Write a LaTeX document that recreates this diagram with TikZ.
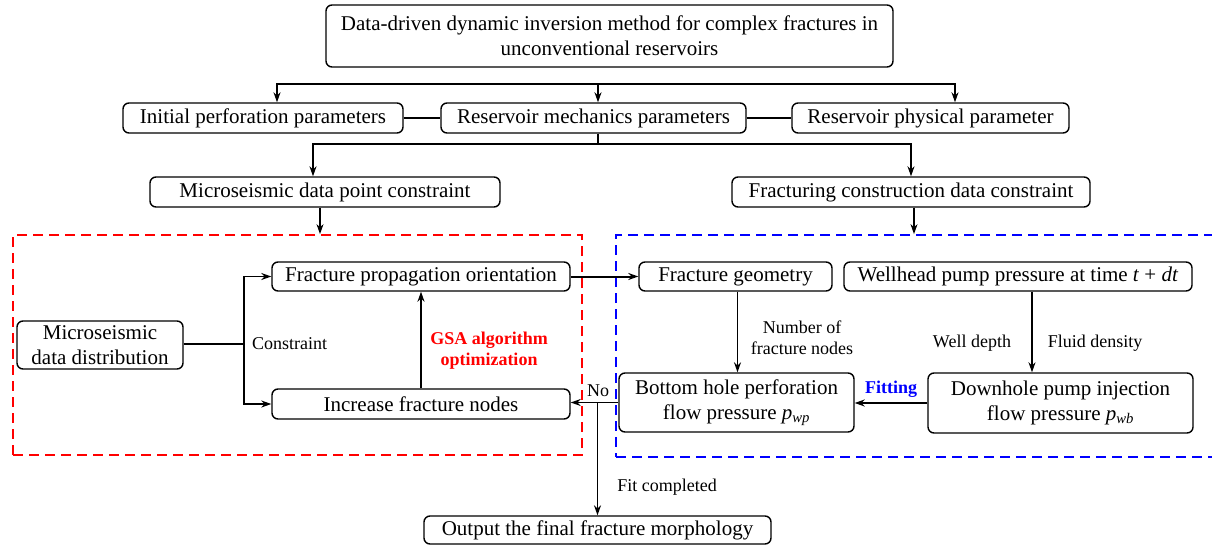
\documentclass[tikz,border=0pt]{standalone}
\usepackage{fontspec}
\setmainfont{Liberation Serif}
\usetikzlibrary{arrows.meta}
\begin{document}
\begin{tikzpicture}[x=1pt, y=-1pt, font=\fontsize{21}{25}\selectfont,
    box/.style={draw, rounded corners=6pt, line width=1.4pt, inner sep=0pt, align=center},
    lbl/.style={font=\fontsize{18}{21}\selectfont, align=center, inner sep=1pt},
    blbl/.style={lbl, font=\fontsize{18}{21}\selectfont\bfseries},
    arr/.style={-{Stealth[length=10pt,width=7pt]}, line width=1.2pt},
    zone/.style={draw, dash pattern=on 10pt off 6pt, line width=1.8pt, inner sep=0pt}]
  \clip (0,0) rectangle (1212,548);
  % dashed regions
  \node[zone, red, minimum width=569pt, minimum height=220pt] (redzone) at (297.5,345) {};
  \node[zone, blue, minimum width=620pt, minimum height=222pt] (bluezone) at (926,346) {};
  % top part
  \node[box, minimum width=567pt, minimum height=62pt] (top) at (609.5,36) {Data-driven dynamic inversion method for complex fractures in\\unconventional reservoirs};
  \node[box, minimum width=280pt, minimum height=30pt] (init) at (263,118) {Initial perforation parameters};
  \node[box, minimum width=305pt, minimum height=30pt] (mech) at (593.5,118) {Reservoir mechanics parameters};
  \node[box, minimum width=277pt, minimum height=30pt] (phys) at (930.5,118) {Reservoir physical parameter};
  \node[box, minimum width=350pt, minimum height=30pt] (mdpc) at (325,192) {Microseismic data point constraint};
  \node[box, minimum width=358pt, minimum height=30pt] (fcdc) at (911,192) {Fracturing construction data constraint};
  \coordinate (busA) at (598,84);
  \coordinate (busB) at (598,144);
  \draw[arr] (busA) -| ([xshift=14pt]init.north);
  \draw[arr] (busA) -| ([xshift=24.5pt]phys.north);
  \draw[arr] (busA) -- (busA |- mech.north);
  \draw[line width=1.2pt] (init) -- (mech);
  \draw[line width=1.2pt] (mech) -- (phys);
  \draw[line width=1.2pt] (mech.south -| busB) -- (busB);
  \draw[arr] (busB) -| ([xshift=-12pt]mdpc.north);
  \draw[arr] (busB) -| (fcdc.north);
  \draw[arr] ([xshift=-5pt]mdpc.south) -- ([xshift=-5pt]mdpc.south |- redzone.north);
  \draw[arr] ([xshift=3pt]fcdc.south) -- ([xshift=3pt]fcdc.south |- bluezone.north);
  % red part
  \node[box, minimum width=166pt, minimum height=48pt] (mdd) at (100,345) {Microseismic\\data distribution};
  \node[box, minimum width=298pt, minimum height=29pt] (fpo) at (421,276.5) {Fracture propagation orientation};
  \node[box, minimum width=298pt, minimum height=30pt] (inc) at (421,404) {Increase fracture nodes};
  \coordinate (split) at (244,344);
  \draw[line width=1.2pt] (split -| mdd.east) -- (split);
  \draw[arr] (split) |- (fpo.west);
  \draw[arr] (split) |- (inc.west);
  \node[lbl, anchor=west] (constr) at (251,344) {Constraint};
  \draw[arr] (inc) -- (fpo);
  \node[blbl, red] (gsa) at (489,351) {GSA algorithm\\optimization};
  % blue part
  \node[box, minimum width=193pt, minimum height=29pt] (geo) at (735.5,276.5) {Fracture geometry};
  \node[box, minimum width=348pt, minimum height=29pt] (well) at (1018,276.5) {Wellhead pump pressure at time \textit{t} + \textit{dt}};
  \node[box, minimum width=235pt, minimum height=59pt] (bhp) at (736.5,402.5) {Bottom hole perforation\\flow pressure \textit{p}\textsubscript{\textit{wp}}};
  \node[box, minimum width=265pt, minimum height=60pt] (dhp) at (1060.5,403) {Downhole pump injection\\flow pressure \textit{p}\textsubscript{\textit{wb}}};
  \draw[arr, line width=2pt] (fpo.east) -- (geo.west);
  \draw[arr] ([xshift=2pt]geo.south) -- ([xshift=2pt]geo.south |- bhp.north);
  \node[lbl] (nfn) at (802,338) {Number of\\fracture nodes};
  \draw[arr] ([xshift=14pt]well.south) -- ([xshift=14pt]well.south |- dhp.north);
  \node[lbl] (depth) at (972,343) {Well depth};
  \node[lbl] (dens) at (1095,343) {Fluid density};
  \draw[arr] (dhp.west) -- (bhp.east |- dhp.west);
  \node[blbl, blue] (fit) at (891,389) {Fitting};
  % output
  \node[box, minimum width=347pt, minimum height=28pt] (out) at (597.5,530) {Output the final fracture morphology};
  \draw[arr] (bhp.west) -- (inc.east |- bhp.west);
  \node[lbl] (no) at (598,391) {No};
  \draw[arr] (out.north |- bhp.west) -- (out.north);
  \node[lbl] (done) at (667,487) {Fit completed};
\end{tikzpicture}
\end{document}
